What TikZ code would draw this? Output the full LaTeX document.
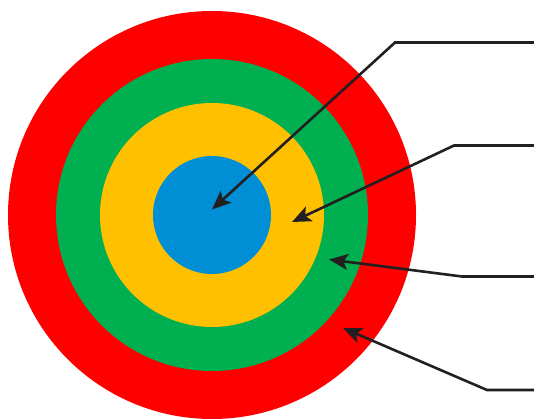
\documentclass[tikz,border=0pt]{standalone}
\usetikzlibrary{arrows.meta}
\definecolor{ringred}{RGB}{255,0,0}
\definecolor{ringgreen}{RGB}{0,176,80}
\definecolor{ringyellow}{RGB}{255,192,0}
\definecolor{ringblue}{RGB}{0,143,213}
\definecolor{leader}{RGB}{35,31,32}
\tikzset{
  ring/.style={circle, draw=none, inner sep=0pt, minimum size=#1},
  leaderline/.style={draw=leader, line width=2.6pt, -{Stealth[length=19pt, width=16pt, inset=4.5pt]}},
}
\begin{document}
\begin{tikzpicture}[x=1pt, y=-1pt]
\useasboundingbox (0,0) rectangle (534,419);
\node[ring=408pt, fill=ringred]    (red)    at (212,215) {};
\node[ring=312pt, fill=ringgreen]  (green)  at (212,215) {};
\node[ring=224pt, fill=ringyellow] (yellow) at (212,215) {};
\node[ring=118pt, fill=ringblue]   (blue)   at (212,215) {};
% leader line ends and corners
\coordinate (e1) at (535,42.5);  \coordinate (c1) at (395,42.5);  \coordinate (t1) at (212,209.5);
\coordinate (e2) at (535,145.5); \coordinate (c2) at (454,145.5); \coordinate (t2) at (292,222);
\coordinate (e3) at (535,276.5); \coordinate (c3) at (462,276.5); \coordinate (t3) at (329,259.5);
\coordinate (e4) at (535,390);   \coordinate (c4) at (487,390);   \coordinate (t4) at (343,328);
\draw[leaderline] (e1) -- (c1) -- (t1);
\draw[leaderline] (e2) -- (c2) -- (t2);
\draw[leaderline] (e3) -- (c3) -- (t3);
\draw[leaderline] (e4) -- (c4) -- (t4);
\end{tikzpicture}
\end{document}
